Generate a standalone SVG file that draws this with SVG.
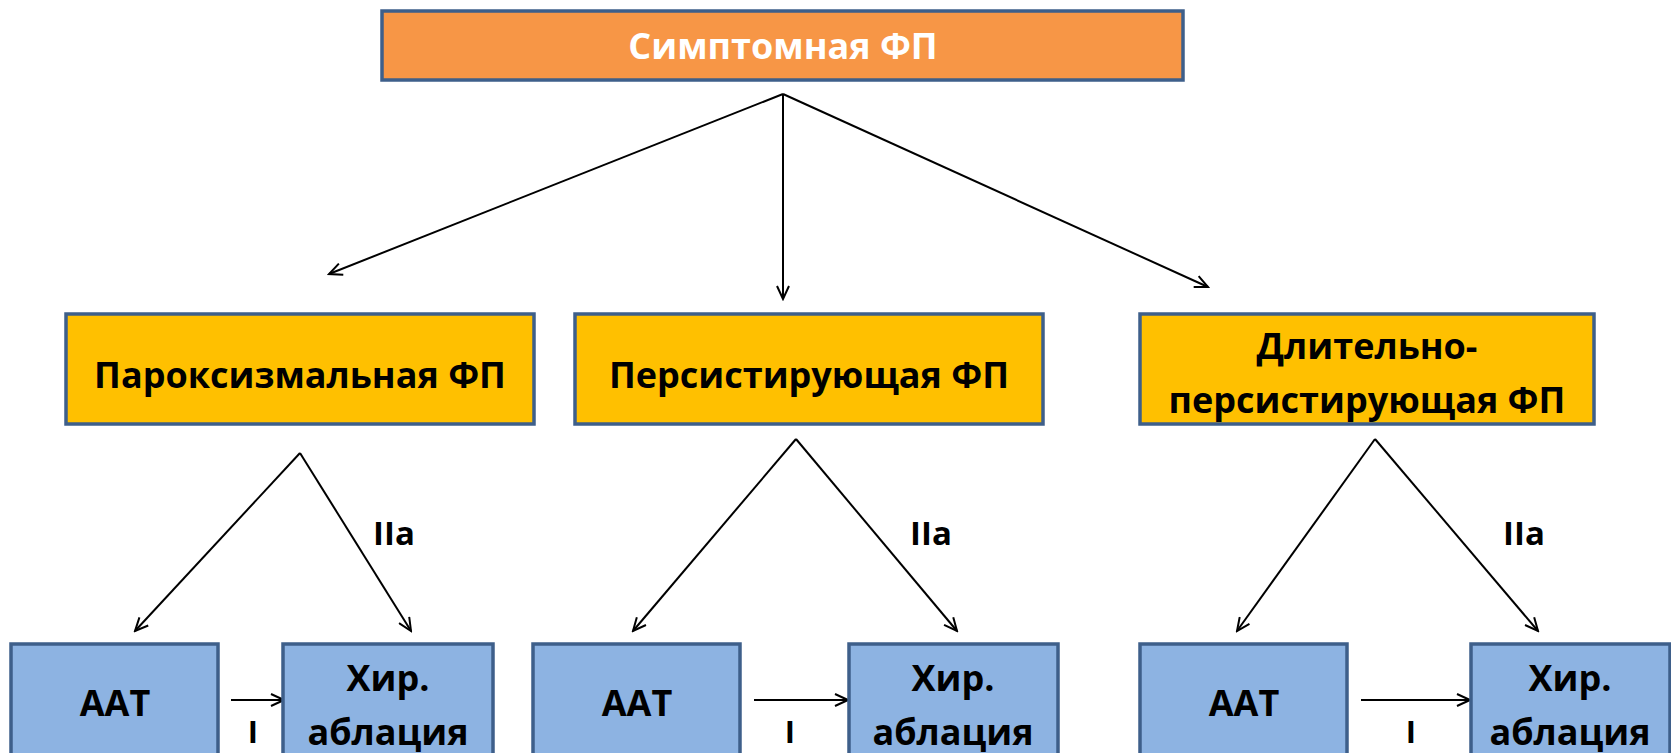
<svg xmlns="http://www.w3.org/2000/svg" width="1671" height="753" viewBox="0 0 1671 753">
<defs>
<marker id="ah" markerWidth="16" markerHeight="14" refX="14" refY="7" orient="auto" markerUnits="userSpaceOnUse">
<path d="M1,1 L14,7 L1,13" fill="none" stroke="#000" stroke-width="2"/>
</marker>
<style>
.box{stroke:#3E5F8A;stroke-width:3.5}
.top{fill:#F79646}
.mid{fill:#FFC000}
.bot{fill:#8DB3E2}
text{font-family:"Open Sans","Liberation Sans",sans-serif;font-weight:bold;text-anchor:middle}
.t1{fill:#fff;font-size:36px}
.t2{fill:#000;font-size:36px}
.t3{fill:#000;font-size:36px}
.lab{fill:#000;font-size:33px}
.c{stroke:#000;stroke-width:2;fill:none;marker-end:url(#ah)}
</style>
</defs>
<rect width="1671" height="753" fill="#fff"/>
<g id="connectors">
<line class="c" x1="783" y1="94" x2="329" y2="274"/>
<line class="c" x1="783" y1="94" x2="783" y2="299"/>
<line class="c" x1="783" y1="94" x2="1208" y2="287"/>
<line class="c" x1="300" y1="453" x2="135" y2="631"/>
<line class="c" x1="300" y1="453" x2="411" y2="631"/>
<line class="c" x1="796" y1="439" x2="633" y2="631"/>
<line class="c" x1="796" y1="439" x2="957" y2="631"/>
<line class="c" x1="1375" y1="439" x2="1237" y2="631"/>
<line class="c" x1="1375" y1="439" x2="1538" y2="631"/>
<line class="c" x1="231" y1="700" x2="284" y2="700"/>
<line class="c" x1="754" y1="700" x2="848" y2="700"/>
<line class="c" x1="1361" y1="700" x2="1470" y2="700"/>
<text class="lab" x="394" y="545">IIa</text>
<text class="lab" x="931" y="545">IIa</text>
<text class="lab" x="1524" y="545">IIa</text>
<text class="lab" x="253" y="743" style="font-size:31px">I</text>
<text class="lab" x="790" y="743" style="font-size:31px">I</text>
<text class="lab" x="1411" y="743" style="font-size:31px">I</text>
</g>
<g id="n-top">
<rect class="box top" x="382" y="11" width="801" height="69"/>
<text class="t1" x="783" y="59">Симптомная ФП</text>
</g>
<g id="n-parox">
<rect class="box mid" x="66" y="314" width="468" height="110"/>
<text class="t2" x="300" y="388">Пароксизмальная ФП</text>
</g>
<g id="n-pers">
<rect class="box mid" x="575" y="314" width="468" height="110"/>
<text class="t2" x="809" y="388">Персистирующая ФП</text>
</g>
<g id="n-long">
<rect class="box mid" x="1140" y="314" width="454" height="110"/>
<text class="t2" x="1367" y="359">Длительно-</text>
<text class="t2" x="1367" y="413">персистирующая ФП</text>
</g>
<g id="n-aat1">
<rect class="box bot" x="11" y="644" width="207" height="120"/>
<text class="t3" x="115" y="716">ААТ</text>
</g>
<g id="n-abl1">
<rect class="box bot" x="283" y="644" width="210" height="120"/>
<text class="t3" x="388" y="691">Хир.</text>
<text class="t3" x="388" y="745">аблация</text>
</g>
<g id="n-aat2">
<rect class="box bot" x="533" y="644" width="207" height="120"/>
<text class="t3" x="637" y="716">ААТ</text>
</g>
<g id="n-abl2">
<rect class="box bot" x="849" y="644" width="209" height="120"/>
<text class="t3" x="953" y="691">Хир.</text>
<text class="t3" x="953" y="745">аблация</text>
</g>
<g id="n-aat3">
<rect class="box bot" x="1140" y="644" width="207" height="120"/>
<text class="t3" x="1244" y="716">ААТ</text>
</g>
<g id="n-abl3">
<rect class="box bot" x="1471" y="644" width="199" height="120"/>
<text class="t3" x="1570" y="691">Хир.</text>
<text class="t3" x="1570" y="745">аблация</text>
</g>
</svg>
